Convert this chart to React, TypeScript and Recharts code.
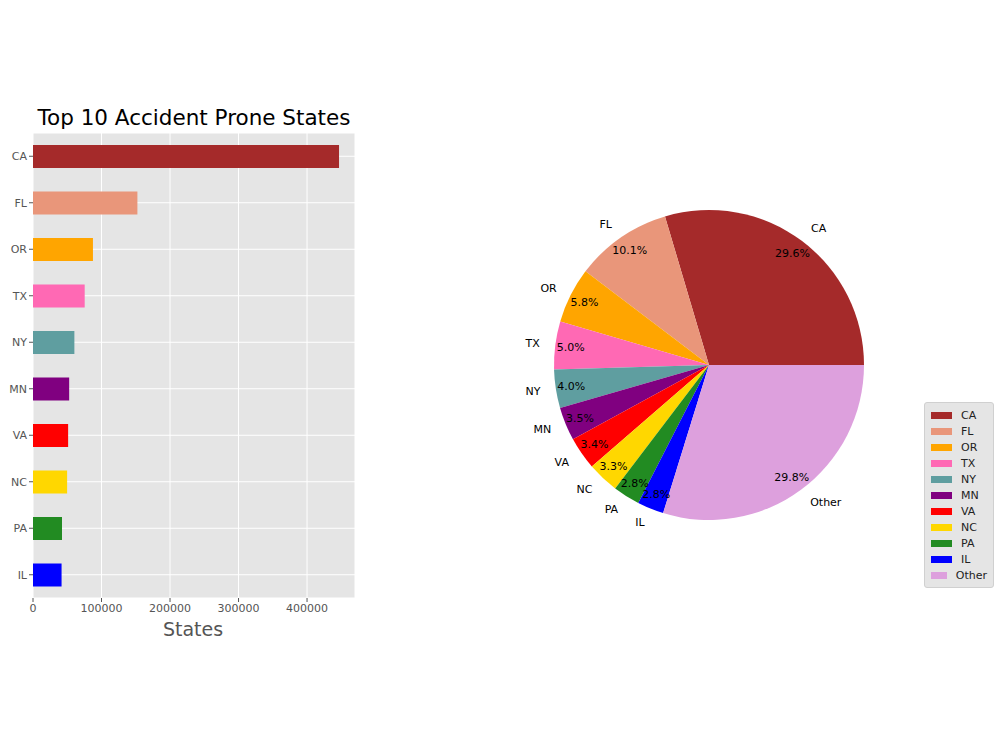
import React from 'react';
import { BarChart, Bar, XAxis, YAxis, CartesianGrid, Cell, PieChart, Pie, Legend } from 'recharts';

const STATES = ['CA', 'FL', 'OR', 'TX', 'NY', 'MN', 'VA', 'NC', 'PA', 'IL'];
const ACCIDENTS = [446700, 152400, 87500, 75400, 60400, 52800, 51300, 49800, 42300, 41700];
const OTHER_ACCIDENTS = 449700;
const COLORS = ['#a52a2a', '#e9967a', '#ffa500', '#ff69b4', '#5f9ea0', '#800080', '#ff0000', '#ffd700', '#228b22', '#0000ff'];
const OTHER_COLOR = '#dda0dd';
const X_TICKS = [0, 100000, 200000, 300000, 400000];

const FONT = '"DejaVu Sans", sans-serif';
const RADIAN = Math.PI / 180;

const barData = STATES.map((s, i) => ({ state: s, count: ACCIDENTS[i], color: COLORS[i] }));
const pieData = [
  ...barData,
  { state: 'Other', count: OTHER_ACCIDENTS, color: OTHER_COLOR },
];

// matplotlib style labels: name outside at 1.1r, percentage inside at 0.9r
const renderPieLabel = (props: any) => {
  const { cx, cy, midAngle, outerRadius, percent, name } = props;
  const cos = Math.cos(-midAngle * RADIAN);
  const sin = Math.sin(-midAngle * RADIAN);
  const nx = cx + outerRadius * 1.1 * cos;
  const ny = cy + outerRadius * 1.1 * sin;
  const px = cx + outerRadius * 0.9 * cos;
  const py = cy + outerRadius * 0.9 * sin;
  return (
    <g>
      <text x={nx} y={ny} textAnchor={cos >= 0 ? 'start' : 'end'} dominantBaseline="central"
        fontSize={11} fill="#000" fontFamily={FONT}>{name}</text>
      <text x={px} y={py} textAnchor="middle" dominantBaseline="central"
        fontSize={11} fill="#000" fontFamily={FONT}>{(percent * 100).toFixed(1)}%</text>
    </g>
  );
};

// keep legend in slice order (recharts sorts payload by name)
const renderLegend = (props: any) => {
  const { payload } = props;
  const items = [...payload].sort(
    (a: any, b: any) => pieData.findIndex(d => d.state === a.value) - pieData.findIndex(d => d.state === b.value)
  );
  return (
    <div style={{
      background: '#e5e5e5', border: '1px solid #d0d0d0', borderRadius: 3,
      padding: '4px 6px', fontFamily: FONT, fontSize: 11, color: '#222',
    }}>
      {items.map((p: any) => (
        <div key={p.value} style={{ display: 'flex', alignItems: 'center', height: 16 }}>
          <span style={{ display: 'inline-block', width: 21, height: 7, background: p.color, marginRight: 9 }} />
          <span>{p.value}</span>
        </div>
      ))}
    </div>
  );
};

const App: React.FC = () => {
  return (
    <div style={{ position: 'absolute', left: 0, top: 0, width: 1000, height: 750, background: '#fff', fontFamily: FONT }}>
      {/* bar chart */}
      <div style={{ position: 'absolute', left: 0, top: 105, width: 388, textAlign: 'center', fontSize: 21.5, color: '#000' }}>
        Top 10 Accident Prone States
      </div>
      <div style={{ position: 'absolute', left: 0, top: 0 }}>
        <BarChart width={380} height={660} data={barData} layout="vertical"
          margin={{ top: 133, right: 25, bottom: 0, left: 0 }} barCategoryGap={0}>
          <CartesianGrid fill="#e5e5e5" stroke="#ffffff" strokeWidth={1} />
          <XAxis type="number" dataKey="count" domain={[0, 470000]} ticks={X_TICKS} height={62}
            axisLine={false} tickLine={{ stroke: '#555' }} tickSize={4}
            tick={{ fill: '#555', fontSize: 11, fontFamily: FONT }} interval={0} />
          <YAxis type="category" dataKey="state" width={33}
            axisLine={false} tickLine={{ stroke: '#555' }} tickSize={4}
            tick={{ fill: '#555', fontSize: 11, fontFamily: FONT }} interval={0} />
          <Bar dataKey="count" barSize={23} isAnimationActive={false}>
            {barData.map((d) => <Cell key={d.state} fill={d.color} />)}
          </Bar>
        </BarChart>
      </div>
      <div style={{ position: 'absolute', left: 0, top: 618, width: 386, textAlign: 'center', fontSize: 19, color: '#555' }}>
        States
      </div>

      {/* pie chart */}
      <div style={{ position: 'absolute', left: 400, top: 0 }}>
        <PieChart width={600} height={750}>
          <Pie data={pieData} dataKey="count" nameKey="state" cx={304} cy={360} outerRadius={155}
            startAngle={0} endAngle={360} stroke="none" labelLine={false} label={renderPieLabel}
            isAnimationActive={false}>
            {pieData.map((d) => <Cell key={d.state} fill={d.color} />)}
          </Pie>
          <Legend layout="vertical" content={renderLegend}
            wrapperStyle={{ position: 'absolute', left: 524, top: 402, width: 70 }} />
        </PieChart>
      </div>
    </div>
  );
};

export default App;
